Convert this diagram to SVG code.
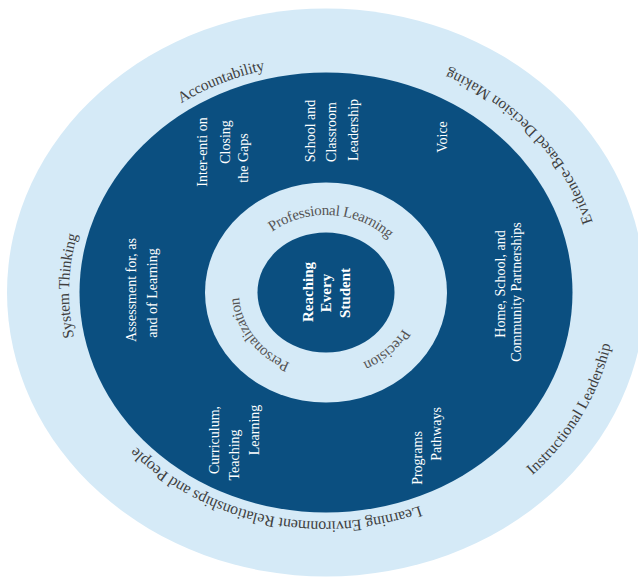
<svg xmlns="http://www.w3.org/2000/svg" width="638" height="581" viewBox="0 0 638 581">
<style>
.light{fill:#d5eaf7}
.dark{fill:#0b4f80}
.ring{font-family:"Liberation Serif","Times New Roman",serif;font-size:15.5px;fill:#3f3f3f;dominant-baseline:central}
.inner{font-family:"Liberation Serif","Times New Roman",serif;font-size:15px;fill:#555;dominant-baseline:central}
.wt{font-family:"Liberation Serif","Times New Roman",serif;font-size:14px;fill:#ffffff;text-anchor:middle}
.core{font-family:"Liberation Serif","Times New Roman",serif;font-size:15px;font-weight:bold;fill:#ffffff;text-anchor:middle}
</style>
<defs>
<path id="pAcc" d="M88.04,192.44 A263,235 0 0 1 394.96,65.72"/>
<path id="pSys" d="M119.89,438.46 A263,235 0 0 1 129.33,136.48"/>
<path id="pLea" d="M482.43,481.42 A263,235 0 0 1 90.64,397.36"/>
<path id="pEvi" d="M596.5,317.9 A272,243 0 0 0 354.4,50.8"/>
<path id="pIns" d="M457.58,516.71 A280,250 0 0 0 607.5,259.03"/>
<path id="pPro" d="M241.96,258.95 A92,82.5 0 0 1 414.44,269.76"/>
<path id="pPre" d="M416.37,307.96 A92,82.5 0 0 1 340.71,373.94"/>
<path id="pPer" d="M308.45,373.48 A92,82.5 0 0 1 235.69,276.76"/>
</defs>
<rect width="638" height="581" fill="#ffffff"/>
<g id="rings">
<ellipse class="light" cx="326" cy="292.5" rx="319" ry="284"/>
<ellipse class="dark" cx="326" cy="292.5" rx="246.5" ry="220"/>
<ellipse class="light" cx="326" cy="292.5" rx="121" ry="110"/>
<ellipse class="dark" cx="326" cy="292.5" rx="68.5" ry="60"/>
</g>
<g id="connectors"></g>
<g id="accountability"><text class="ring"><textPath href="#pAcc" startOffset="50%" text-anchor="middle">Accountability</textPath></text></g>
<g id="system-thinking"><text class="ring"><textPath href="#pSys" startOffset="50%" text-anchor="middle">System Thinking</textPath></text></g>
<g id="learning-environment"><text class="ring" style="font-size:16px"><textPath href="#pLea" startOffset="50%" text-anchor="middle">Learning Environment Relationships and People</textPath></text></g>
<g id="evidence"><text class="ring"><textPath href="#pEvi" startOffset="50%" text-anchor="middle">Evidence-Based Decision Making</textPath></text></g>
<g id="instructional"><text class="ring"><textPath href="#pIns" startOffset="50%" text-anchor="middle">Instructional Leadership</textPath></text></g>
<g id="professional"><text class="inner"><textPath href="#pPro" startOffset="50%" text-anchor="middle">Professional Learning</textPath></text></g>
<g id="precision"><text class="inner"><textPath href="#pPre" startOffset="50%" text-anchor="middle">Precision</textPath></text></g>
<g id="personalization"><text class="inner"><textPath href="#pPer" startOffset="50%" text-anchor="middle">Personalization</textPath></text></g>
<g id="intervention"><text class="wt" transform="translate(207,152) rotate(-90)"><tspan x="0" y="0">Inter-enti on</tspan><tspan x="10" y="23">Closing</tspan><tspan x="-6" y="41">the Gaps</tspan></text></g>
<g id="school-leadership"><text class="wt" transform="translate(315,131) rotate(-90)"><tspan x="0" y="0">School  and</tspan><tspan x="-1" y="21">Classroom</tspan><tspan x="1" y="43">Leadership</tspan></text></g>
<g id="voice"><text class="wt" transform="translate(447,137) rotate(-90)">Voice</text></g>
<g id="assessment"><text class="wt" transform="translate(136,290) rotate(-90)"><tspan x="0" y="0">Assessment for, as</tspan><tspan x="-3" y="21">and of Learning</tspan></text></g>
<g id="home-school"><text class="wt" transform="translate(505,284) rotate(-90)"><tspan x="0" y="0">Home, School,  and</tspan><tspan x="-8" y="16">Community Partnerships</tspan></text></g>
<g id="curriculum"><text class="wt" transform="translate(219,440) rotate(-90)"><tspan x="0" y="0">Curriculum,</tspan><tspan x="-15" y="20">Teaching</tspan><tspan x="10" y="40">Learning</tspan></text></g>
<g id="programs"><text class="wt" transform="translate(422,458) rotate(-90)"><tspan x="0" y="0">Programs</tspan><tspan x="24" y="19">Pathways</tspan></text></g>
<g id="reaching"><text class="core" transform="translate(313,292) rotate(-90)"><tspan x="0" y="0">Reaching</tspan><tspan x="-1" y="18">Every</tspan><tspan x="-1" y="37">Student</tspan></text></g>
</svg>
